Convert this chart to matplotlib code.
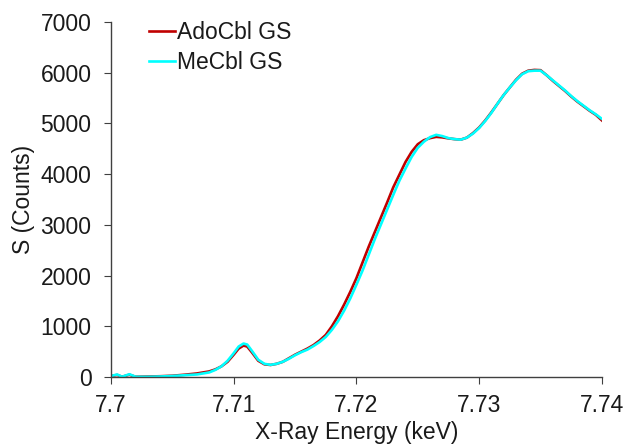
import numpy as np
import matplotlib.pyplot as plt

plt.rcParams['font.family'] = ['Liberation Sans', 'DejaVu Sans']

energy = [7.7000, 7.7005, 7.7009, 7.7015, 7.7020, 7.7030, 7.7040, 7.7050, 7.7060,
          7.7070, 7.7080, 7.7085, 7.7090, 7.7095, 7.7100, 7.7104, 7.7108, 7.7111,
          7.7115, 7.7120, 7.7125, 7.7130, 7.7135, 7.7140, 7.7145, 7.7150, 7.7155,
          7.7160, 7.7165, 7.7170, 7.7175, 7.7180, 7.7185, 7.7190, 7.7195, 7.7200,
          7.7205, 7.7210, 7.7215, 7.7220, 7.7225, 7.7230, 7.7235, 7.7240, 7.7245,
          7.7250, 7.7255, 7.7260, 7.7265, 7.7270, 7.7275, 7.7280, 7.7285, 7.7290,
          7.7295, 7.7300, 7.7305, 7.7310, 7.7315, 7.7320, 7.7325, 7.7330, 7.7335,
          7.7340, 7.7345, 7.7350, 7.7355, 7.7360, 7.7365, 7.7370, 7.7375, 7.7380,
          7.7385, 7.7390, 7.7395, 7.7400]

ado = [20, 40, 5, 45, 5, 10, 15, 25, 45,
       70, 110, 150, 210, 300, 440, 560, 620, 600,
       480, 320, 250, 237, 260, 300, 370, 440, 500,
       560, 630, 720, 830, 1000, 1200, 1430, 1680, 1950,
       2260, 2570, 2860, 3150, 3440, 3740, 3990, 4240, 4440,
       4590, 4670, 4710, 4735, 4725, 4705, 4690, 4680, 4720,
       4810, 4920, 5060, 5220, 5390, 5560, 5710, 5860, 5980,
       6040, 6055, 6050, 5950, 5840, 5740, 5640, 5530, 5430,
       5340, 5250, 5170, 5060]

mecbl = [20, 50, 5, 55, 5, 5, 10, 20, 35,
         50, 90, 140, 210, 320, 470, 600, 660, 640,
         510, 340, 260, 240, 260, 300, 360, 430, 490,
         540, 610, 690, 790, 930, 1100, 1310, 1550, 1820,
         2100, 2410, 2720, 3010, 3300, 3590, 3870, 4110, 4340,
         4520, 4640, 4730, 4775, 4750, 4710, 4690, 4680, 4720,
         4800, 4910, 5050, 5210, 5390, 5560, 5710, 5850, 5970,
         6030, 6040, 6040, 5950, 5850, 5750, 5650, 5540, 5440,
         5350, 5260, 5180, 5090]

xticks = [7.70, 7.71, 7.72, 7.73, 7.74]
xticklabels = ['7.7', '7.71', '7.72', '7.73', '7.74']
yticks = [0, 1000, 2000, 3000, 4000, 5000, 6000, 7000]

fig = plt.figure(figsize=(6.25, 4.46), dpi=100)
ax = fig.add_axes([0.1776, 0.1547, 0.7854, 0.796])

ax.plot(energy, ado, color='#C00000', lw=1.9, label='AdoCbl GS')
ax.plot(energy, mecbl, color='#00FFFF', lw=1.9, label='MeCbl GS')

ax.set_xlim(7.70, 7.74)
ax.set_ylim(0, 7000)
ax.set_xticks(xticks)
ax.set_xticklabels(xticklabels)
ax.set_yticks(yticks)

for s in ['top', 'right']:
    ax.spines[s].set_visible(False)
for s in ['left', 'bottom']:
    ax.spines[s].set_color('#404040')
    ax.spines[s].set_linewidth(1.0)
ax.tick_params(direction='out', length=5, labelsize=16.5)
ax.tick_params(axis='y', pad=9, colors='#404040', labelcolor='#1a1a1a')
ax.tick_params(axis='x', pad=7, colors='#404040', labelcolor='#1a1a1a')

ax.set_xlabel('X-Ray Energy (keV)', fontsize=16.5, labelpad=3, color='#1a1a1a')
ax.set_ylabel('S (Counts)', fontsize=16.5, labelpad=4, color='#1a1a1a')

leg = ax.legend(loc='upper left', bbox_to_anchor=(0.035, 1.06), frameon=False,
                fontsize=16.5, handlelength=1.13, handletextpad=0.1, labelspacing=0.3)
for t in leg.get_texts():
    t.set_color('#1a1a1a')

fig.savefig('out.png', dpi=100)
